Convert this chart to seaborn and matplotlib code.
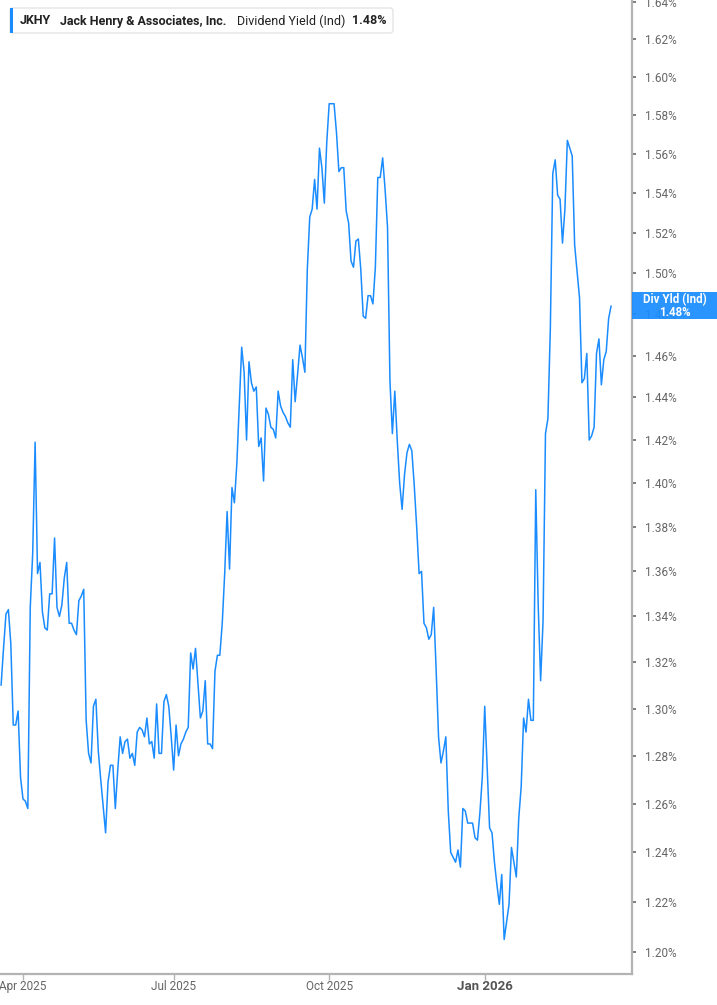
import matplotlib
matplotlib.use('Agg')
import matplotlib.pyplot as plt
from matplotlib.patches import FancyBboxPatch, Rectangle
from matplotlib.ticker import FixedLocator, FuncFormatter, NullLocator
import numpy as np
import pandas as pd
import seaborn as sns

ticker_symbol = 'JKHY'
company_name = 'Jack Henry & Associates, Inc.'
metric_name = 'Dividend Yield (Ind)'
badge_name = 'Div Yld (Ind)'

first_date = '2025-03-19'
market_holidays = ['2025-04-18', '2025-05-26', '2025-06-19', '2025-07-04', '2025-09-01',
                   '2025-11-27', '2025-12-25', '2026-01-01', '2026-01-19', '2026-02-16']

# daily indicated dividend yield, in percent
div_yield = [
    1.310, 1.326, 1.341, 1.343, 1.328, 1.293, 1.293, 1.299, 1.271, 1.262,
    1.261, 1.258, 1.344, 1.368, 1.419, 1.359, 1.364, 1.342, 1.335, 1.334,
    1.350, 1.350, 1.375, 1.344, 1.340, 1.345, 1.357, 1.364, 1.337, 1.337,
    1.334, 1.332, 1.347, 1.349, 1.352, 1.295, 1.281, 1.277, 1.301, 1.304,
    1.282, 1.270, 1.259, 1.248, 1.269, 1.276, 1.276, 1.258, 1.274, 1.288,
    1.281, 1.286, 1.287, 1.279, 1.281, 1.276, 1.290, 1.292, 1.291, 1.288,
    1.296, 1.285, 1.286, 1.279, 1.302, 1.281,
    1.281, 1.303, 1.306, 1.301, 1.288, 1.274, 1.293, 1.280, 1.285, 1.287,
    1.290, 1.292, 1.324, 1.317, 1.326, 1.311, 1.296, 1.299, 1.312, 1.285,
    1.285, 1.283, 1.316, 1.323, 1.323, 1.337, 1.359, 1.387, 1.361, 1.398,
    1.391, 1.409, 1.436, 1.464, 1.452, 1.420, 1.457, 1.447, 1.443, 1.445,
    1.417, 1.421, 1.401, 1.435, 1.432, 1.426, 1.425, 1.421, 1.443, 1.436,
    1.433, 1.431, 1.428, 1.426, 1.458, 1.438, 1.451, 1.465, 1.459, 1.452,
    1.502, 1.528, 1.532, 1.547, 1.532, 1.563, 1.553, 1.535, 1.566, 1.586,
    1.586, 1.586, 1.571, 1.551, 1.553, 1.553, 1.531, 1.525, 1.506, 1.503,
    1.516, 1.517, 1.502, 1.479, 1.478, 1.489, 1.489, 1.485, 1.503, 1.548,
    1.548, 1.558, 1.542, 1.523, 1.448, 1.423, 1.443, 1.420, 1.400, 1.388,
    1.404, 1.414, 1.418, 1.415, 1.399, 1.380,
    1.359, 1.360, 1.337, 1.335, 1.330, 1.332, 1.344, 1.317, 1.288, 1.277,
    1.282, 1.288, 1.257, 1.240, 1.238, 1.236, 1.241, 1.234, 1.258, 1.257,
    1.252, 1.252, 1.252, 1.246, 1.245, 1.256, 1.271, 1.301, 1.275, 1.250,
    1.248, 1.236, 1.227, 1.219, 1.231, 1.205, 1.212, 1.219, 1.242, 1.236,
    1.230, 1.254, 1.267, 1.296, 1.290, 1.304, 1.295, 1.295, 1.397, 1.345,
    1.312, 1.338, 1.423, 1.430, 1.473, 1.550, 1.557, 1.539, 1.537, 1.515,
    1.532, 1.567, 1.563, 1.559, 1.514, 1.501, 1.488, 1.447, 1.449, 1.461,
    1.420, 1.422, 1.426, 1.461, 1.468, 1.446, 1.458, 1.462, 1.478, 1.484,
]

y_ticks = [1.20, 1.22, 1.24, 1.26, 1.28, 1.30, 1.32, 1.34, 1.36, 1.38, 1.40, 1.42,
           1.44, 1.46, 1.48, 1.50, 1.52, 1.54, 1.56, 1.58, 1.60, 1.62, 1.64]
x_tick_months = ['2025-04-01', '2025-07-01', '2025-10-01', '2026-01-01']
x_tick_labels = ['Apr 2025', 'Jul 2025', 'Oct 2025', 'Jan 2026']

line_color = '#1a8cff'
W, H = 717, 1005

dates = pd.bdate_range(start=first_date, periods=len(div_yield), freq='C', holidays=market_holidays)
df = pd.DataFrame({'day': np.arange(len(div_yield)), 'date': dates, 'yield': div_yield})
tick_pos = [int(df.loc[df['date'] >= pd.Timestamp(m), 'day'].iloc[0]) for m in x_tick_months]

sns.set_style('white')
plt.rcParams['font.family'] = ['Roboto', 'DejaVu Sans']

fig = plt.figure(figsize=(W / 100, H / 100), dpi=100)
ax = fig.add_axes([0, 31 / H, 632 / W, 974 / H])

sns.lineplot(data=df, x='day', y='yield', ax=ax, color=line_color, linewidth=1.1)

ax.set_yscale('log')
ax.set_xlim(-0.45, 259.6)
ax.set_ylim(1.1914, 1.6410)
ax.yaxis.set_major_locator(FixedLocator(y_ticks))
ax.yaxis.set_minor_locator(NullLocator())
ax.yaxis.set_major_formatter(FuncFormatter(lambda v, p: f'{v:.2f}%'))
ax.yaxis.tick_right()
ax.set_xticks(tick_pos)
ax.set_xticklabels(x_tick_labels)
ax.set_xlabel('')
ax.set_ylabel('')

for side in ['top', 'left']:
    ax.spines[side].set_visible(False)
for side in ['right', 'bottom']:
    ax.spines[side].set_color('#b3b3b3')
    ax.spines[side].set_linewidth(1.6)

ax.tick_params(axis='y', which='major', direction='out', length=3, width=1.2, color='#666666',
               labelsize=8.5, labelcolor='#666666', pad=6, right=True, left=False)
ax.tick_params(axis='x', direction='out', length=4, width=1, color='#b3b3b3',
               labelsize=8.5, labelcolor='#666666', pad=0.5, bottom=True)
jan = ax.get_xticklabels()[3]
jan.set_fontweight('bold')
jan.set_color('#555555')
jan.set_fontsize(9.5)

# header box
px = fig.dpi_scale_trans
box = FancyBboxPatch((10 / 100, (H - 33) / 100), 383 / 100, 25 / 100,
                     boxstyle='round,pad=0,rounding_size=0.03', transform=px,
                     facecolor='white', edgecolor='#e4e4e4', linewidth=1)
fig.patches.append(box)
fig.patches.append(Rectangle((10 / 100, (H - 33) / 100), 3 / 100, 25 / 100, transform=px,
                             facecolor=line_color, edgecolor='none'))
ty = 1 - 21 / H
fig.text(20 / W, ty, ticker_symbol, fontsize=9, fontweight='bold', color='#222222', va='center')
fig.text(60 / W, ty, company_name, fontsize=9, fontweight='bold', color='#222222', va='center')
fig.text(237 / W, ty, metric_name, fontsize=9, color='#222222', va='center')
fig.text(352 / W, ty, f'{div_yield[-1]:.2f}%', fontsize=9, fontweight='bold', color='#222222', va='center')

# last value badge on the axis (slightly see-through, as in the source)
last_y = ax.transData.transform((0, div_yield[-1]))[1]
fig.patches.append(Rectangle((632 / 100, (last_y - 13.5) / 100), 85 / 100, 27 / 100, transform=px,
                             facecolor=line_color, edgecolor='none', alpha=0.93, zorder=5))
fig.text(675 / W, last_y / H, f'{badge_name}\n{div_yield[-1]:.2f}%', ha='center', va='center',
         fontsize=8.3, fontweight='bold', color='white', linespacing=1.0, zorder=6)

fig.savefig('out.png', dpi=100)
